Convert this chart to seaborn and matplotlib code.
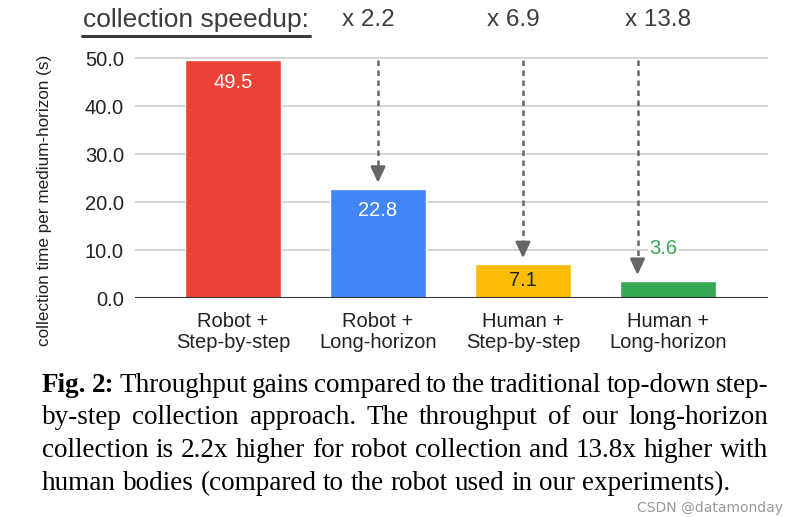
import matplotlib
matplotlib.use("Agg")
import pandas as pd
import matplotlib.pyplot as plt
import seaborn as sns
from matplotlib.lines import Line2D

# Data
categories = ["Robot +\nStep-by-step", "Robot +\nLong-horizon",
              "Human +\nStep-by-step", "Human +\nLong-horizon"]
times = [49.5, 22.8, 7.1, 3.6]
colors = ["#EA4335", "#4285F4", "#FBBC04", "#34A853"]
speedups = ["x 2.2", "x 6.9", "x 13.8"]
yticks = [0, 10, 20, 30, 40, 50]

caption = [
    [("Fig.", True), ("2:", True), ("Throughput", False), ("gains", False), ("compared", False),
     ("to", False), ("the", False), ("traditional", False), ("top-down", False), ("step-", False)],
    [(w, False) for w in "by-step collection approach. The throughput of our long-horizon".split()],
    [(w, False) for w in "collection is 2.2x higher for robot collection and 13.8x higher with".split()],
    [(w, False) for w in "human bodies (compared to the robot used in our experiments).".split()],
]

df = pd.DataFrame({"setup": categories, "time": times})

sns.set_style("white")
plt.rcParams["font.family"] = ["Liberation Sans", "DejaVu Sans"]

W, H = 800, 517
fig = plt.figure(figsize=(8, 5.17), dpi=100)
ax = fig.add_axes([135 / W, 1 - 298 / H, 633 / W, (298 - 55.6) / H])

sns.barplot(data=df, x="setup", y="time", hue="setup", palette=colors,
            width=0.66, saturation=1, legend=False, ax=ax)

ax.set_xlim(-0.676, 3.69)
ax.set_ylim(0, 50.5)
ax.set_yticks(yticks)
ax.set_yticklabels([f"{v:.1f}" for v in yticks])
ax.tick_params(axis="both", length=0, labelsize=14.5, colors="#222222")
ax.tick_params(axis="y", pad=8)
ax.tick_params(axis="x", pad=10)
for lab in ax.get_xticklabels():
    lab.set_linespacing(1.15)
ax.yaxis.grid(True, color="#cccccc", lw=1.2)
ax.set_axisbelow(True)
ax.axhline(0, color="#333333", lw=1.5)
for s in ax.spines.values():
    s.set_visible(False)
ax.set_xlabel("")
ax.set_ylabel("")

fig.text(45 / W, 1 - 200 / H, "collection time per medium-horizon (s)",
         rotation=90, ha="center", va="center", fontsize=12.3, color="#222222")

# value labels
ax.text(0, times[0] - 4.6, f"{times[0]}", ha="center", va="center", color="white", fontsize=14.5)
ax.text(1, times[1] - 4.6, f"{times[1]}", ha="center", va="center", color="white", fontsize=14.5)
ax.text(2, times[2] / 2, f"{times[2]}", ha="center", va="center", color="#222222", fontsize=14.5)
ax.text(2.97, times[3] + 6.8, f"{times[3]}", ha="center", va="center", color="#34A853", fontsize=14.5,
        bbox=dict(facecolor="white", edgecolor="none", pad=1))

# dashed arrows from speedup labels down to bars
arrow_x = [1, 2, 2.79]
for x, v in zip(arrow_x, times[1:]):
    ax.plot([x, x], [49.6, v + 3.2], color="#666666", lw=1.8,
            linestyle=(0, (2.2, 1.8)), clip_on=False)
    ax.annotate("", xy=(x, v + 1.2), xytext=(x, v + 3.8),
                arrowprops=dict(arrowstyle="-|>,head_width=0.28,head_length=0.6", color="#666666",
                                lw=1.8, mutation_scale=16, shrinkA=0, shrinkB=0))

# speedup header
ax.text(-0.255, 57.9, "collection speedup:", ha="center", va="center",
        fontsize=19, color="#3c3c3c", clip_on=False)
for i, s in enumerate(speedups):
    ax.text(i + 1 - 0.07, 57.9, s, ha="center", va="center",
            fontsize=17.5, color="#3c3c3c", clip_on=False)
fig.add_artist(Line2D([82 / W, 310 / W], [1 - 36 / H, 1 - 36 / H], color="#3c3c3c", lw=2.2))

# caption, justified
fig.canvas.draw()
renderer = fig.canvas.get_renderer()
cap_fs = 19.5
left, right = 42, 768
baselines = [392, 424.5, 457, 489.5]
for li, (words, yb) in enumerate(zip(caption, baselines)):
    arts = [fig.text(0, 1 - yb / H, w, fontsize=cap_fs, family="Liberation Serif",
                     weight="bold" if b else "normal", va="baseline", color="black")
            for w, b in words]
    widths = [t.get_window_extent(renderer).width for t in arts]
    if li < 3:
        gap = (right - left - sum(widths)) / (len(arts) - 1)
    else:
        gap = cap_fs * 100 / 72 * 0.25
    x = left
    for t, w in zip(arts, widths):
        t.set_x(x / W)
        x += w + gap

fig.text(783 / W, 1 - 508 / H, "CSDN @datamonday", ha="right", va="center",
         fontsize=10, color="#999999", family="DejaVu Sans")

fig.savefig("out.png", dpi=100)
